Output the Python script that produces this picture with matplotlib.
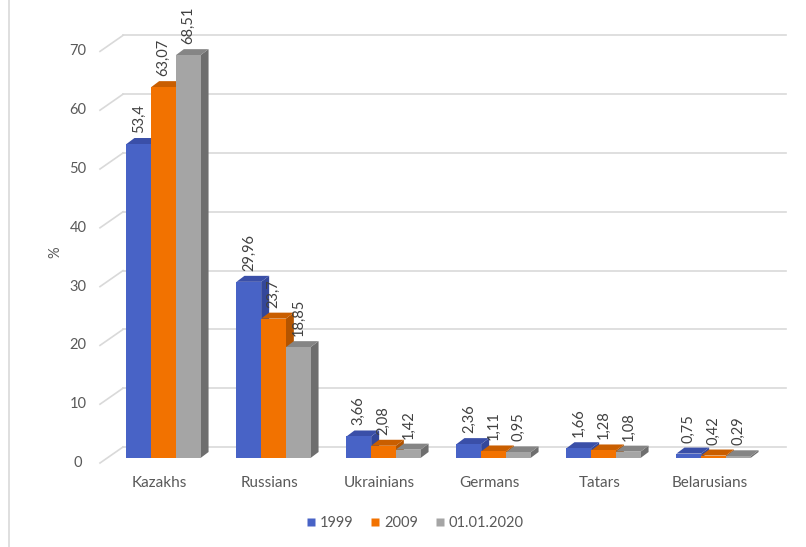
import numpy as np
import matplotlib.pyplot as plt
from matplotlib.patches import Polygon
from matplotlib.lines import Line2D
from matplotlib import transforms

categories = ["Kazakhs", "Russians", "Ukrainians", "Germans", "Tatars", "Belarusians"]
series_names = ["1999", "2009", "01.01.2020"]
v1999 = [53.4, 29.96, 3.66, 2.36, 1.66, 0.75]
v2009 = [63.07, 23.7, 2.08, 1.11, 1.28, 0.42]
v2020 = [68.51, 18.85, 1.42, 0.95, 1.08, 0.29]
labels1999 = ["53,4", "29,96", "3,66", "2,36", "1,66", "0,75"]
labels2009 = ["63,07", "23,7", "2,08", "1,11", "1,28", "0,42"]
labels2020 = ["68,51", "18,85", "1,42", "0,95", "1,08", "0,29"]
yticks = [0, 10, 20, 30, 40, 50, 60, 70]

front = ["#4863c6", "#f27200", "#a5a5a5"]
top = ["#3a4fa8", "#c95e00", "#858585"]
side = ["#34479a", "#b35400", "#6e6e6e"]

plt.rcParams['font.family'] = ['Lato', 'DejaVu Sans']
W, H = 806, 547
fig = plt.figure(figsize=(W / 100, H / 100), dpi=100)

# axes geometry in pixels
ax_left, ax_right, base_px = 100, 790, 458
px_per_unit = 5.88
ax = fig.add_axes([ax_left / W, (H - base_px) / H, (ax_right - ax_left) / W, base_px / H])
ax.set_ylim(0, base_px / px_per_unit)
ax.set_xlim(-63.5 / 110, (ax_right - 163.5) / 110)
ax.axis("off")

kx = 1 / 110.0          # data units per pixel (x)
ky = 1 / px_per_unit    # data units per pixel (y)
dxp, dyp = 8, 6         # bar depth in pixels
bw = 24.7 * kx

def off(tr, x, y):
    return transforms.offset_copy(tr, fig=fig, x=x, y=y, units='dots')

blend = transforms.blended_transform_factory(ax.transAxes, ax.transData)

# back gridlines + slanted ticks
for v in yticks:
    ax.plot([ax.get_xlim()[0] + 23 * kx, ax.get_xlim()[0] + 686 * kx], [v, v],
            transform=off(ax.transData, 0, 11), color="#d9d9d9", lw=1.2, zorder=1, clip_on=False)
    ax.plot([0, 23 / (ax_right - ax_left)], [v - 5 * ky, v + 11 * ky], transform=blend,
            color="#d9d9d9", lw=1.2, zorder=1, clip_on=False)
    ax.text(-22 / (ax_right - ax_left), v - 5 * ky, str(v), transform=blend,
            ha="center", va="center", fontsize=10.5, color="#595959")

ax.text(-45 / (ax_right - ax_left), 35, "%", transform=blend, rotation=90,
        ha="center", va="center", fontsize=10.5, color="#595959")

x = np.arange(len(categories))
all_vals = [v1999, v2009, v2020]
all_labels = [labels1999, labels2009, labels2020]
dx, dy = dxp * kx, dyp * ky
for i in range(len(categories)):
    for s in range(3):
        h = all_vals[s][i]
        x0 = x[i] + (s - 1) * bw - bw / 2
        x1 = x0 + bw
        z = 3 + s
        ax.add_patch(Polygon([(x1, 0), (x1, h), (x1 + dx, h + dy), (x1 + dx, dy)],
                             closed=True, facecolor=side[s], edgecolor="none", zorder=z))
        ax.add_patch(Polygon([(x0, h), (x1, h), (x1 + dx, h + dy), (x0 + dx, h + dy)],
                             closed=True, facecolor=top[s], edgecolor="none", zorder=z))
        ax.bar(x0, h, width=bw, align="edge", color=front[s], zorder=z)
        ax.text(x0 + bw / 2, h + 11 * ky, all_labels[s][i], rotation=90,
                ha="center", va="bottom", fontsize=10.5, color="#404040", zorder=10)

for i, c in enumerate(categories):
    ax.text(x[i], 0, c, transform=off(ax.transData, -4, -25), ha="center", va="center",
            fontsize=11, color="#595959")

handles = [Line2D([], [], marker="s", linestyle="none", markersize=5.5,
                  markerfacecolor=front[s], markeredgecolor="none") for s in range(3)]
fig.legend(handles, series_names, loc="center", bbox_to_anchor=(415 / W, (H - 523) / H),
           ncol=3, frameon=False, fontsize=10.5, handlelength=0.6, handletextpad=0.3,
           columnspacing=1.2, labelcolor="#595959")

# frame line on the left
fig.add_artist(Line2D([9 / W, 9 / W], [0, 1], color="#d9d9d9", lw=1.2))

fig.savefig("out.png", dpi=100)
